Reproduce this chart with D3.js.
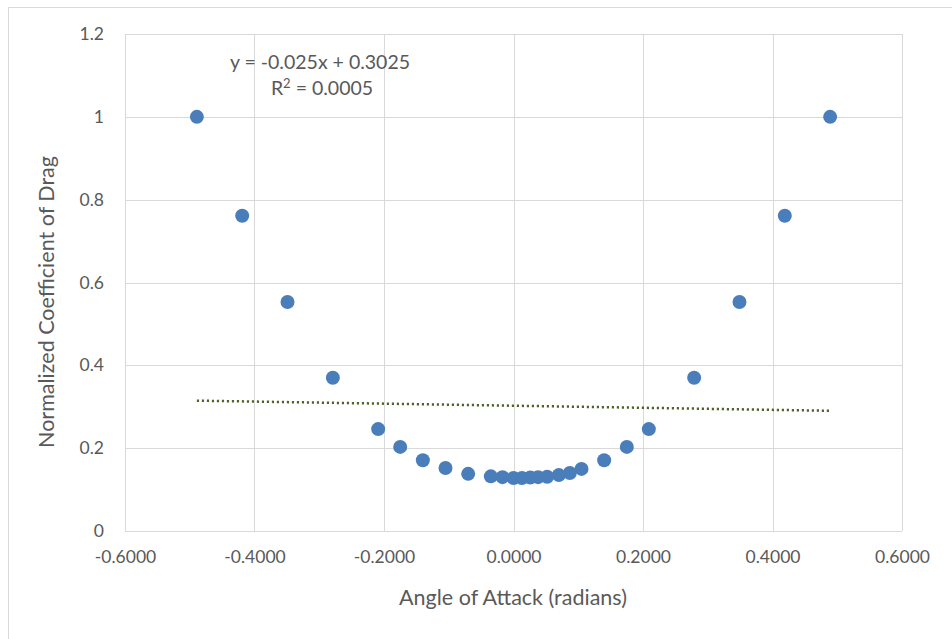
<!DOCTYPE html>
<html>
<head>
<meta charset="utf-8">
<script src="https://cdn.jsdelivr.net/npm/d3@7"></script>
<style>
  body { margin: 0; background: #fff; }
  svg { display: block; font-family: Lato, "Open Sans", sans-serif; }
</style>
</head>
<body>
<script>
// angle of attack (radians) and normalized drag coefficient
const angles = [-0.489, -0.419, -0.349, -0.279, -0.209, -0.175, -0.140, -0.105, -0.070, -0.035,
  -0.017, 0.000, 0.013, 0.026, 0.038, 0.052, 0.070, 0.087, 0.105, 0.140,
  0.175, 0.209, 0.279, 0.349, 0.419, 0.489];
const drag = [1.000, 0.761, 0.553, 0.370, 0.246, 0.203, 0.171, 0.152, 0.138, 0.132,
  0.130, 0.128, 0.128, 0.129, 0.130, 0.131, 0.135, 0.140, 0.150, 0.171,
  0.203, 0.246, 0.370, 0.553, 0.761, 1.000];

const xTicks = [-0.6, -0.4, -0.2, 0, 0.2, 0.4, 0.6];
const yTicks = [0, 0.2, 0.4, 0.6, 0.8, 1, 1.2];

// linear trendline y = slope * x + intercept
const slope = -0.025;
const intercept = 0.3025;
const r2 = '0.0005';

const WIDTH = 952;
const HEIGHT = 639;
const PLOT_LEFT = 125;
const PLOT_RIGHT = 902;
const PLOT_TOP = 34;
const PLOT_BOT = 531;

const svg = d3.select('body')
  .append('svg')
    .attr('width', WIDTH)
    .attr('height', HEIGHT);

// chart frame
svg.append('rect')
    .attr('x', 8.5)
    .attr('y', 7.5)
    .attr('width', WIDTH)
    .attr('height', HEIGHT)
    .attr('fill', 'none')
    .attr('stroke', '#d9d9d9');

const x = d3.scaleLinear().domain([-0.6, 0.6]).range([PLOT_LEFT, PLOT_RIGHT]);
const y = d3.scaleLinear().domain([0, 1.2]).range([PLOT_BOT, PLOT_TOP]);

// gridlines
svg.append('g')
  .selectAll('line')
  .data(xTicks)
  .join('line')
    .attr('x1', d => Math.round(x(d)) + 0.5)
    .attr('x2', d => Math.round(x(d)) + 0.5)
    .attr('y1', PLOT_TOP)
    .attr('y2', PLOT_BOT)
    .attr('stroke', '#d9d9d9');

svg.append('g')
  .selectAll('line')
  .data(yTicks)
  .join('line')
    .attr('x1', PLOT_LEFT)
    .attr('x2', PLOT_RIGHT)
    .attr('y1', d => Math.round(y(d)) + 0.5)
    .attr('y2', d => Math.round(y(d)) + 0.5)
    .attr('stroke', '#d9d9d9');

// x axis labels
const xAxis = d3.axisBottom(x)
    .tickValues(xTicks)
    .tickSize(0)
    .tickPadding(20)
    .tickFormat(d => d.toFixed(4));

svg.append('g')
    .attr('transform', `translate(0, ${PLOT_BOT})`)
    .call(xAxis)
    .call(g => g.select('.domain').remove())
    .call(g => g.selectAll('text')
      .attr('fill', '#595959')
      .style('font-size', '17.5px')
      .style('font-family', 'Lato, sans-serif'));

// y axis labels
const yAxis = d3.axisLeft(y)
    .tickValues(yTicks)
    .tickSize(0)
    .tickPadding(21)
    .tickFormat(d => String(d));

svg.append('g')
    .attr('transform', `translate(${PLOT_LEFT}, 0)`)
    .call(yAxis)
    .call(g => g.select('.domain').remove())
    .call(g => g.selectAll('text')
      .attr('fill', '#595959')
      .style('font-size', '17.5px')
      .style('font-family', 'Lato, sans-serif'));

// axis titles
svg.append('text')
    .attr('x', 513)
    .attr('y', 605)
    .attr('text-anchor', 'middle')
    .attr('fill', '#595959')
    .style('font-size', '21.5px')
    .text('Angle of Attack (radians)');

svg.append('text')
    .attr('transform', 'translate(54, 302) rotate(-90)')
    .attr('text-anchor', 'middle')
    .attr('fill', '#595959')
    .style('font-size', '21.5px')
    .text('Normalized Coefficient of Drag');

// trendline
const xExtent = d3.extent(angles);
svg.append('line')
    .attr('x1', x(xExtent[0]))
    .attr('x2', x(xExtent[1]))
    .attr('y1', y(slope * xExtent[0] + intercept))
    .attr('y2', y(slope * xExtent[1] + intercept))
    .attr('stroke', '#4f6228')
    .attr('stroke-width', 2.5)
    .attr('stroke-dasharray', '2.2 2.8');

// points
svg.append('g')
  .selectAll('circle')
  .data(angles)
  .join('circle')
    .attr('cx', d => x(d))
    .attr('cy', (d, i) => y(drag[i]))
    .attr('r', 7)
    .attr('fill', '#4a7ebb');

// trendline equation
const eq = svg.append('text')
    .attr('text-anchor', 'middle')
    .attr('fill', '#595959')
    .style('font-size', '19.5px');

eq.append('tspan')
    .attr('x', 320)
    .attr('y', 69)
    .text(`y = ${slope}x + ${intercept}`);

eq.append('tspan')
    .attr('x', 322)
    .attr('y', 95)
    .html(`R<tspan dy="-7" font-size="13px">2</tspan><tspan dy="7"> = ${r2}</tspan>`);
</script>
</body>
</html>
